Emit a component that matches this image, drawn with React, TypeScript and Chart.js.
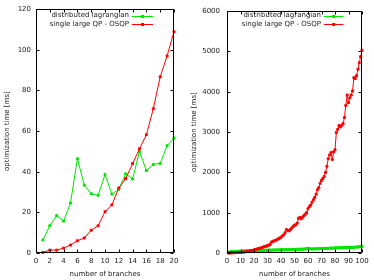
import React, { useEffect, useRef } from "react";
import { Chart, registerables } from "chart.js";

Chart.register(...registerables);

const seriesLabels = ["distributed lagrangian", "single large QP - OSQP"];
const xTitle = "number of branches";
const yTitle = "optimization time [ms]";

const branchesSmall = [1, 2, 3, 4, 5, 6, 7, 8, 9, 10, 11, 12, 13, 14, 15, 16, 17, 18, 19, 20];
const lagrangianSmall = [6.4, 13.4, 18.4, 15.7, 24.6, 46.4, 33.4, 29.2, 28.4, 38.6, 29.0, 31.3, 39.0, 36.4, 50.0, 40.6, 43.6, 44.1, 52.8, 56.6];
const osqpSmall = [0.3, 1.4, 1.4, 2.4, 3.9, 6.0, 7.4, 11.2, 13.4, 20.3, 23.7, 32.0, 36.6, 44.0, 51.3, 58.2, 71.0, 86.7, 97.0, 108.9];

const branchesLarge = [
  1, 2, 3, 4, 5, 6, 7, 8, 9, 10,
  11, 12, 13, 14, 15, 16, 17, 18, 19, 20,
  21, 22, 23, 24, 25, 26, 27, 28, 29, 30,
  31, 32, 33, 34, 35, 36, 37, 38, 39, 40,
  41, 42, 43, 44, 45, 46, 47, 48, 49, 50,
  51, 52, 53, 54, 55, 56, 57, 58, 59, 60,
  61, 62, 63, 64, 65, 66, 67, 68, 69, 70,
  71, 72, 73, 74, 75, 76, 77, 78, 79, 80,
  81, 82, 83, 84, 85, 86, 87, 88, 89, 90,
  91, 92, 93, 94, 95, 96, 97, 98, 99, 100,
];
const lagrangianLarge = [
  18, 25, 30, 28, 35, 40, 38, 42, 45, 44,
  47, 50, 48, 52, 55, 53, 56, 58, 57, 60,
  59, 62, 63, 61, 65, 66, 64, 68, 70, 69,
  71, 72, 70, 74, 75, 73, 77, 78, 76, 80,
  79, 82, 81, 83, 85, 84, 86, 88, 87, 90,
  89, 92, 91, 94, 93, 95, 97, 100, 108, 115,
  110, 100, 98, 102, 104, 101, 106, 108, 105, 110,
  112, 109, 114, 116, 113, 118, 125, 120, 122, 126,
  124, 128, 127, 130, 129, 133, 132, 135, 134, 138,
  137, 140, 142, 141, 145, 148, 150, 155, 160, 168,
];
const osqpLarge = [
  1, 2, 3, 4, 6, 8, 10, 12, 14, 17,
  20, 24, 28, 33, 38, 44, 50, 57, 65, 75,
  85, 95, 105, 115, 125, 135, 150, 160, 170, 180,
  195, 215, 270, 290, 300, 315, 330, 350, 370, 390,
  420, 450, 500, 580, 560, 550, 580, 620, 660, 690,
  700, 740, 860, 880, 850, 890, 930, 960, 1000, 1100,
  1150, 1190, 1260, 1320, 1380, 1460, 1570, 1620, 1730, 1800,
  1850, 1900, 2000, 2150, 2340, 2430, 2490, 2320, 2510, 2560,
  2990, 3070, 3160, 3130, 3170, 3210, 3360, 3660, 3920, 3730,
  3850, 3920, 4020, 4350, 4330, 4400, 4560, 4720, 4870, 5030,
];

const GREEN = "#00e600";
const RED = "#ff0000";
const INK = "#1a1a1a";
const FONT = "DejaVu Sans";

type PanelParams = {
  xs: number[];
  green: number[];
  red: number[];
  xMax: number;
  xStep: number;
  yMax: number;
  yStep: number;
  yAxisWidth: number;
  padRight: number;
  yTitlePad: number;
  yTickPad: number;
  legendTextRight: number;
  legendX0: number;
  legendX1: number;
};

const framePlugin = {
  id: "gnuframe",
  afterDraw(chart: any, _args: any, opts: any) {
    const ctx = chart.ctx;
    const a = chart.chartArea;
    const L = Math.round(a.left) + 0.5;
    const R = Math.round(a.right) - 0.5;
    const T = Math.round(a.top) + 0.5;
    const B = Math.round(a.bottom) - 0.5;
    ctx.save();
    ctx.strokeStyle = "#000";
    ctx.lineWidth = 1;
    ctx.beginPath();
    ctx.rect(L, T, R - L, B - T);
    const tl = 3;
    const xs = chart.scales.x;
    xs.ticks.forEach((t: any) => {
      const px = Math.round(xs.getPixelForValue(t.value)) + 0.5;
      ctx.moveTo(px, B);
      ctx.lineTo(px, B - tl);
      ctx.moveTo(px, T);
      ctx.lineTo(px, T + tl);
    });
    const ys = chart.scales.y;
    ys.ticks.forEach((t: any) => {
      const py = Math.round(ys.getPixelForValue(t.value)) + 0.5;
      ctx.moveTo(L, py);
      ctx.lineTo(L + tl, py);
      ctx.moveTo(R, py);
      ctx.lineTo(R - tl, py);
    });
    ctx.stroke();

    // legend (gnuplot style: text right-aligned, sample on the right)
    const rows = [15.5, 24];
    ctx.font = `7px "${FONT}"`;
    ctx.textAlign = "right";
    ctx.textBaseline = "middle";
    chart.data.datasets.forEach((ds: any, i: number) => {
      const y = rows[i];
      ctx.fillStyle = INK;
      ctx.fillText(ds.label, opts.textRight, y);
      ctx.strokeStyle = ds.borderColor;
      ctx.beginPath();
      ctx.moveTo(opts.x0, Math.round(y) + 0.5);
      ctx.lineTo(opts.x1, Math.round(y) + 0.5);
      ctx.stroke();
      ctx.fillStyle = ds.borderColor;
      const mx = (opts.x0 + opts.x1) / 2;
      ctx.fillRect(mx - 1.5, Math.round(y) - 1, 3, 3);
    });
    ctx.restore();
  },
};

function makeConfig(p: PanelParams): any {
  const dsCommon = {
    borderWidth: 1,
    pointStyle: "rect",
    pointRadius: 1.4,
    pointBorderWidth: 1,
    tension: 0,
    clip: 4,
  };
  return {
    type: "line",
    data: {
      datasets: [
        {
          ...dsCommon,
          label: seriesLabels[0],
          order: 2,
          data: p.xs.map((x, i) => ({ x, y: p.green[i] })),
          borderColor: GREEN,
          backgroundColor: GREEN,
          pointBackgroundColor: GREEN,
          pointBorderColor: GREEN,
        },
        {
          ...dsCommon,
          label: seriesLabels[1],
          order: 1,
          data: p.xs.map((x, i) => ({ x, y: p.red[i] })),
          borderColor: RED,
          backgroundColor: RED,
          pointBackgroundColor: RED,
          pointBorderColor: RED,
        },
      ],
    },
    options: {
      animation: false,
      responsive: false,
      devicePixelRatio: 1,
      events: [],
      layout: { padding: { left: 0, right: p.padRight, top: 8, bottom: 0 } },
      plugins: {
        legend: { display: false },
        tooltip: { enabled: false },
        gnuframe: { textRight: p.legendTextRight, x0: p.legendX0, x1: p.legendX1 },
      },
      scales: {
        x: {
          type: "linear",
          min: 0,
          max: p.xMax,
          grid: { display: false, drawTicks: false },
          border: { display: false },
          ticks: {
            stepSize: p.xStep,
            autoSkip: false,
            maxRotation: 0,
            padding: 4,
            color: INK,
            font: { family: FONT, size: 7 },
            callback: (v: any) => String(v),
          },
          title: {
            display: true,
            text: xTitle,
            color: INK,
            font: { family: FONT, size: 7 },
            padding: { top: 0, bottom: 1.5 },
          },
          afterFit: (s: any) => {
            s.height = 27;
          },
        },
        y: {
          type: "linear",
          min: 0,
          max: p.yMax,
          grid: { display: false, drawTicks: false },
          border: { display: false },
          ticks: {
            stepSize: p.yStep,
            autoSkip: false,
            padding: p.yTickPad,
            color: INK,
            font: { family: FONT, size: 7 },
            callback: (v: any) => String(v),
          },
          title: {
            display: true,
            text: yTitle,
            color: INK,
            font: { family: FONT, size: 7 },
            padding: { top: p.yTitlePad, bottom: 0 },
          },
          afterFit: (s: any) => {
            s.width = p.yAxisWidth;
          },
        },
      },
    },
    plugins: [framePlugin],
  };
}

function Panel({ left, params }: { left: number; params: PanelParams }) {
  const ref = useRef<HTMLCanvasElement | null>(null);
  useEffect(() => {
    if (!ref.current) return;
    const chart = new Chart(ref.current, makeConfig(params));
    return () => chart.destroy();
  }, []);
  return (
    <canvas
      ref={ref}
      width={187}
      height={280}
      style={{ position: "absolute", left, top: 0, width: 187, height: 280 }}
    />
  );
}

const leftParams: PanelParams = {
  xs: branchesSmall,
  green: lagrangianSmall,
  red: osqpSmall,
  xMax: 20,
  xStep: 2,
  yMax: 120,
  yStep: 20,
  yAxisWidth: 36,
  padRight: 13,
  yTitlePad: 3,
  yTickPad: 5,
  legendTextRight: 129,
  legendX0: 132,
  legendX1: 153,
};

const rightParams: PanelParams = {
  xs: branchesLarge,
  green: lagrangianLarge,
  red: osqpLarge,
  xMax: 100,
  xStep: 10,
  yMax: 6000,
  yStep: 1000,
  yAxisWidth: 40,
  padRight: 12,
  yTitlePad: 2.6,
  yTickPad: 7,
  legendTextRight: 134,
  legendX0: 137,
  legendX1: 156.5,
};

export default function App() {
  return (
    <div
      style={{
        position: "fixed",
        left: 0,
        top: 0,
        width: 374,
        height: 280,
        background: "#fff",
      }}
    >
      <Panel left={0} params={leftParams} />
      <Panel left={187} params={rightParams} />
    </div>
  );
}
